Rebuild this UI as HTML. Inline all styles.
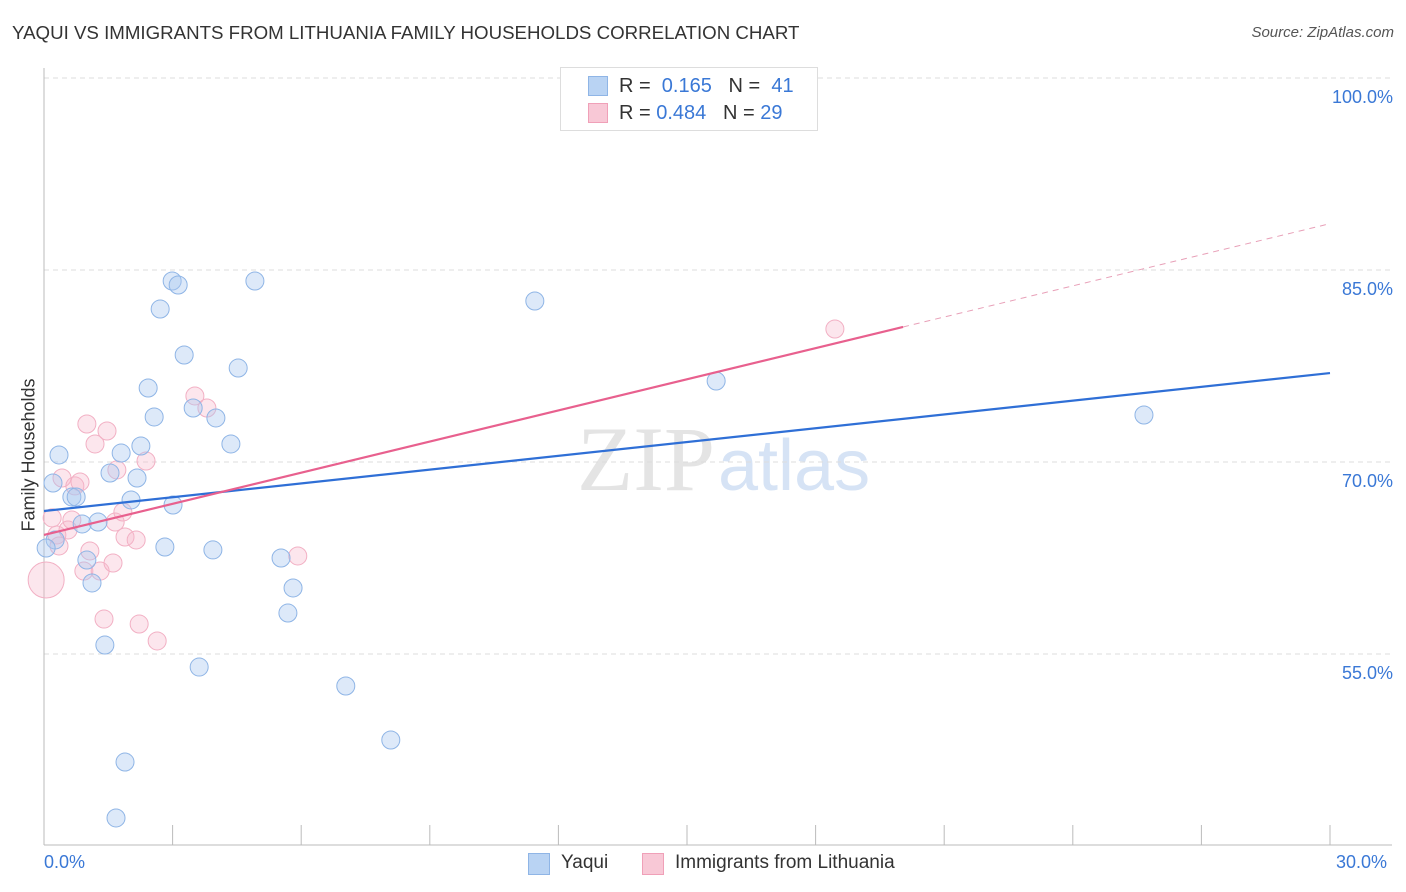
<!DOCTYPE html>
<html><head><meta charset="utf-8">
<style>
body{margin:0;background:#fff;font-family:"Liberation Sans",sans-serif;}
#wrap{position:relative;width:1406px;height:892px;overflow:hidden;}
.t{position:absolute;white-space:nowrap;}
</style></head>
<body>
<div id="wrap">
<div class="t" style="left:12px;top:22px;font-size:18.7px;color:#333;">YAQUI VS IMMIGRANTS FROM LITHUANIA FAMILY HOUSEHOLDS CORRELATION CHART</div>
<div class="t" style="right:12px;top:24px;font-size:15px;color:#555;font-style:italic;">Source: ZipAtlas.com</div>
<svg id="svg" width="1406" height="892" style="position:absolute;left:0;top:0"></svg>
<div class="t" style="left:560px;top:67px;width:256px;height:62px;border:1px solid #ddd;background:#fff;">
  <div style="position:absolute;left:27px;top:8px;width:20px;height:20px;background:#b9d3f3;border:1px solid #8fb5e6;box-sizing:border-box"></div>
  <div class="t" style="left:58px;top:7px;font-size:20px;color:#333">R = <span style="color:#3a78d6">&nbsp;0.165</span>&nbsp;&nbsp;&nbsp;N = <span style="color:#3a78d6">&nbsp;41</span></div>
  <div style="position:absolute;left:27px;top:35px;width:20px;height:20px;background:#f8c8d6;border:1px solid #f0a0b8;box-sizing:border-box"></div>
  <div class="t" style="left:58px;top:34px;font-size:20px;color:#333">R = <span style="color:#3a78d6">0.484</span>&nbsp;&nbsp;&nbsp;N = <span style="color:#3a78d6">29</span></div>
</div>
<div class="t" style="left:17px;top:455px;transform:translate(-50%,-50%) rotate(-90deg);transform-origin:center;font-size:18px;color:#333;margin-left:12px">Family Households</div>
<div class="t" style="left:44px;top:852px;font-size:18px;color:#3a78d6">0.0%</div>
<div class="t" style="left:1336px;top:852px;font-size:18px;color:#3a78d6">30.0%</div>
<div class="t" style="left:528px;top:853px;width:22px;height:22px;background:#b9d3f3;border:1px solid #8fb5e6;box-sizing:border-box"></div>
<div class="t" style="left:561px;top:852px;font-size:19px;color:#333">Yaqui</div>
<div class="t" style="left:642px;top:853px;width:22px;height:22px;background:#f8c8d6;border:1px solid #f0a0b8;box-sizing:border-box"></div>
<div class="t" style="left:675px;top:852px;font-size:19px;color:#333">Immigrants from Lithuania</div>
</div>
<script>
const yTicks=[55,70,85,100];
const yTickLabels=["55.0%","70.0%","85.0%","100.0%"];
const xTicks=[0,3,6,9,12,15,18,21,24,27,30];
const blueX=[0.21,0.35,0.65,0.75,0.89,1.26,1.00,1.12,1.42,1.54,1.80,2.03,2.17,2.26,2.43,2.57,2.71,2.82,2.99,3.13,3.01,3.27,3.48,3.62,3.94,4.01,4.36,4.53,4.92,5.53,5.81,5.69,7.04,8.09,1.89,1.68,11.45,15.68,25.66,0.26,0.05];
const blueY=[68.36,70.55,67.27,67.27,65.16,65.31,62.34,60.55,55.70,69.14,70.70,67.03,68.75,71.25,75.78,73.52,81.95,63.36,84.14,83.83,66.64,78.36,74.22,53.98,63.13,73.44,71.41,77.34,84.14,62.50,60.16,58.20,52.50,48.28,46.56,42.19,82.58,76.33,73.67,63.91,63.28];
const pinkX=[0.05,0.19,0.30,0.35,0.42,0.56,0.72,0.84,1.00,1.19,1.07,0.93,1.31,1.40,1.47,1.61,1.70,1.66,1.84,1.89,2.15,2.22,2.38,2.64,3.52,3.80,5.92,18.45,0.65];
const pinkY=[60.78,65.63,64.30,63.44,68.75,64.69,68.13,68.44,72.97,71.41,63.05,61.48,61.48,57.73,72.42,62.11,69.38,65.31,66.09,64.14,63.91,57.34,70.08,56.02,75.16,74.22,62.66,80.39,65.47];
const pinkR=[18,9,9,9,9,9,9,9,9,9,9,9,9,9,9,9,9,9,9,9,9,9,9,9,9,9,9,9,9];
const blueTrend=[66.17,76.95];
const pinkTrend=[64.30,80.55,88.62];
const pinkSolidEnd=20.04;

const X0=44,X1=1330,Y0=40,Y1=100;
const sx=v=>X0+(v/30)*(X1-X0);
const sy=v=>78+(Y1-v)*12.8;
const svg=document.getElementById('svg');
const NS='http://www.w3.org/2000/svg';
function mk(tag,attrs){const e=document.createElementNS(NS,tag);for(const k in attrs)e.setAttribute(k,attrs[k]);svg.appendChild(e);return e;}

let w=mk('text',{x:715,y:490,'text-anchor':'end','font-size':92,'font-family':'Liberation Serif, serif',fill:'#e4e4e4'});
w.textContent='ZIP';


let w2=mk('text',{x:718,y:490,'font-size':72,'font-family':'Liberation Sans, sans-serif',fill:'#d6e3f5'});
w2.textContent='atlas';



yTicks.forEach((t,i)=>{
  const g=mk('line',{x1:X0,x2:1392,y1:sy(t),y2:sy(t),stroke:'#ddd','stroke-dasharray':'5,4'});
  
  
  const l=mk('text',{x:1393,y:sy(t)+25,'text-anchor':'end','font-size':18,fill:'#3a78d6','font-family':'Liberation Sans, sans-serif'});
  l.textContent=yTickLabels[i];
  
  
});
const ax=mk('line',{x1:X0,x2:X0,y1:68,y2:845,stroke:'#bbb'});


const bx=mk('line',{x1:X0,x2:1392,y1:845,y2:845,stroke:'#bbb'});


xTicks.forEach(t=>{
  const k=mk('line',{x1:sx(t),x2:sx(t),y1:825,y2:845,stroke:'#bbb'});
  
  
});

pinkX.forEach((x,i)=>{
  const c=mk('circle',{cx:sx(x),cy:sy(pinkY[i]),r:pinkR[i],fill:'rgba(246,184,204,0.35)',stroke:'#f2b0c4','stroke-width':1});
  
  
});
blueX.forEach((x,i)=>{
  const c=mk('circle',{cx:sx(x),cy:sy(blueY[i]),r:9,fill:'rgba(170,200,240,0.4)',stroke:'#8fb5e6','stroke-width':1});
  
  
});
const bl=mk('line',{x1:sx(0),y1:sy(blueTrend[0]),x2:sx(30),y2:sy(blueTrend[1]),stroke:'#2f6fd6','stroke-width':2.2});


const pl=mk('line',{x1:sx(0),y1:sy(pinkTrend[0]),x2:sx(pinkSolidEnd),y2:sy(pinkTrend[1]),stroke:'#e8608e','stroke-width':2.2});


const pd=mk('line',{x1:sx(pinkSolidEnd),y1:sy(pinkTrend[1]),x2:sx(30),y2:sy(pinkTrend[2]),stroke:'#e8a0b8','stroke-width':1,'stroke-dasharray':'6,5'});


</script>
</body></html>
